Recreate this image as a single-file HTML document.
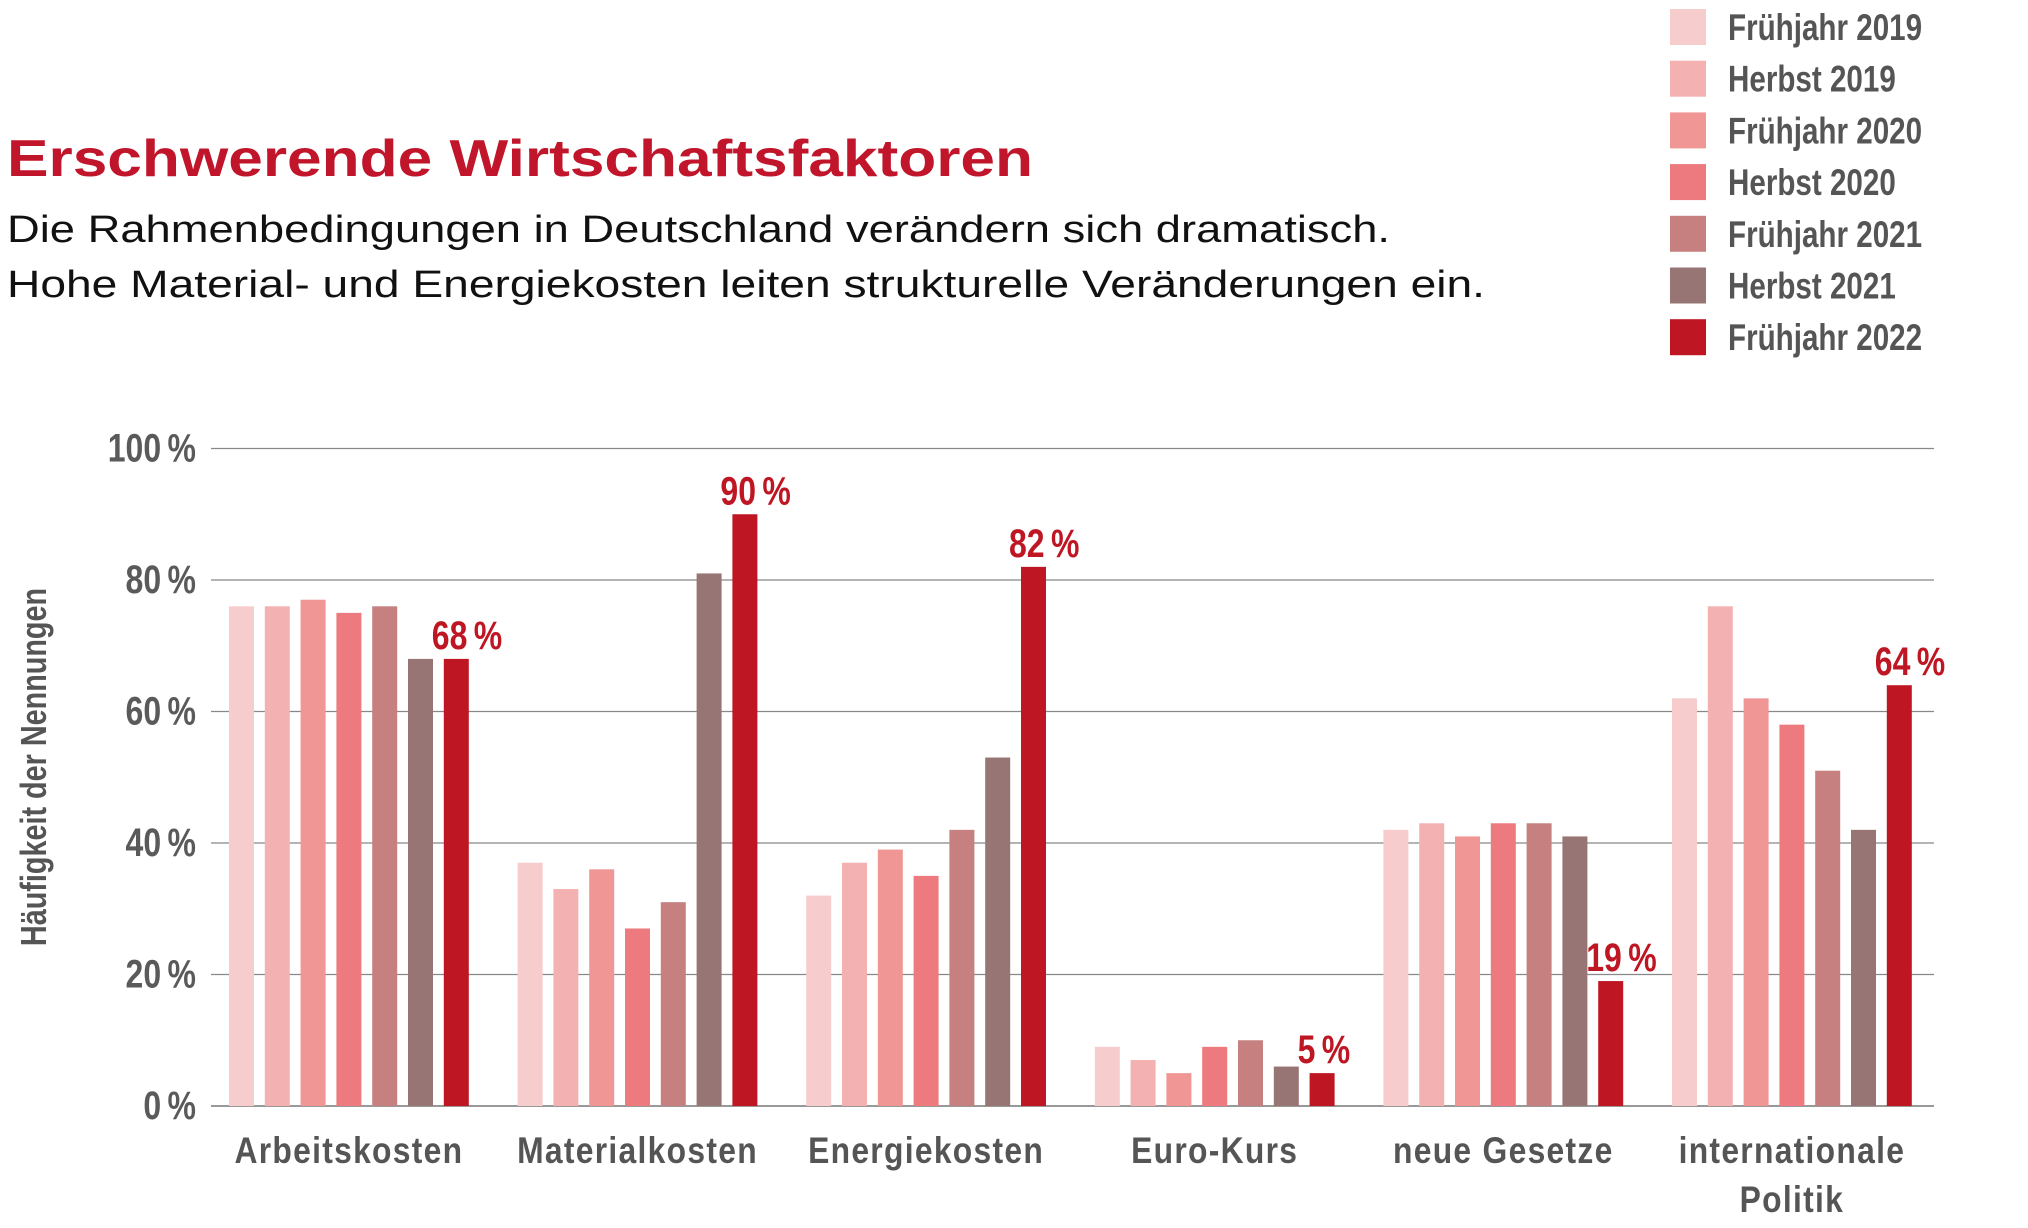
<!DOCTYPE html>
<html><head><meta charset="utf-8"><style>
html,body{margin:0;padding:0;background:#fff;}
svg{display:block;}
.nar{font-family:"Liberation Sans Narrow","Liberation Sans",sans-serif;font-weight:bold;}
</style></head><body>
<svg id="chart" width="2028" height="1228" viewBox="0 0 2028 1228" xmlns="http://www.w3.org/2000/svg">
<text x="7" y="176" font-family="Liberation Sans, sans-serif" font-weight="bold" font-size="52" fill="#c0152a" textLength="1026" lengthAdjust="spacingAndGlyphs">Erschwerende Wirtschaftsfaktoren</text>
<text x="7" y="242" font-family="Liberation Sans, sans-serif" font-size="38" fill="#111" textLength="1383" lengthAdjust="spacingAndGlyphs">Die Rahmenbedingungen in Deutschland verändern sich dramatisch.</text>
<text x="7" y="297" font-family="Liberation Sans, sans-serif" font-size="38" fill="#111" textLength="1478" lengthAdjust="spacingAndGlyphs">Hohe Material- und Energiekosten leiten strukturelle Veränderungen ein.</text>
<g id="grid"></g><g id="bars"></g><g id="legend"></g>
<text class="nar" font-size="36" fill="#555" text-anchor="middle" transform="translate(46,767) rotate(-90) scale(0.8,1)">Häufigkeit der Nennungen</text>
</svg>
<script>
const categories = [["Arbeitskosten"],["Materialkosten"],["Energiekosten"],["Euro-Kurs"],["neue Gesetze"],["internationale","Politik"]];
const seriesNames = ["Frühjahr 2019","Herbst 2019","Frühjahr 2020","Herbst 2020","Frühjahr 2021","Herbst 2021","Frühjahr 2022"];
const s2019F = [76,37,32,9,42,62];
const s2019H = [76,33,37,7,43,76];
const s2020F = [77,36,39,5,41,62];
const s2020H = [75,27,35,9,43,58];
const s2021F = [76,31,42,10,43,51];
const s2021H = [68,81,53,6,41,42];
const s2022F = [68,90,82,5,19,64];
const yTicks = [0,20,40,60,80,100];
const series = [s2019F,s2019H,s2020F,s2020H,s2021F,s2021H,s2022F];
const colors = ["#f7cccc","#f3b2b1","#f09796","#ec7a7f","#c68080","#977574","#be1622"];
const NS="http://www.w3.org/2000/svg";
const y0=1106, y100=448.5, xL=211, xR=1934;
function yScale(v){return y0-(y0-y100)*v/100;}
function xBar(g,s){return 229+g*288.6+s*35.8;}
const bw=25;
function mk(tag,attrs,parent,text){const e=document.createElementNS(NS,tag);for(const k in attrs)e.setAttribute(k,attrs[k]);if(text!==undefined)e.textContent=text;parent.appendChild(e);return e;}
function ntext(x,y,attrs,parent,text,sx){attrs.x=0;attrs.y=0;attrs.transform='translate('+x+','+y+') scale('+(sx||0.8)+',1)';return mk('text',attrs,parent,text);}
const grid=document.getElementById('grid');
yTicks.forEach(t=>{
  const l=mk('line',{x1:xL,x2:xR,y1:yScale(t),y2:yScale(t),stroke:t===0?'#999':'#888','stroke-width':t===0?2:1.3},grid);
  
  
  const tx=ntext(196,yScale(t)+13,{'text-anchor':'end','font-size':40,fill:'#5a5a5a',class:'nar'},grid,t+'\u2009%');
  
  
});
const bars=document.getElementById('bars');
categories.forEach((c,g)=>{
  series.forEach((arr,s)=>{
    const v=arr[g];
    const r=mk('rect',{x:xBar(g,s),y:yScale(v),width:bw,height:y0-yScale(v),fill:colors[s]},bars);
    
    
  });
  const v=s2022F[g];
  const lab=ntext(xBar(g,6)-12,yScale(v)-10,{'font-size':40,fill:'#be1622',class:'nar'},bars,v+'\u2009%');
  
  
  const cx=(xBar(g,0)+xBar(g,6)+bw)/2;
  c.forEach((line,i)=>{
    const t=ntext(cx,1163+i*49,{'text-anchor':'middle','font-size':37,fill:'#555',class:'nar','letter-spacing':'1.5'},bars,line,0.86);
    
    
  });
});
const leg=document.getElementById('legend');
seriesNames.forEach((n,i)=>{
  const cy=27+i*51.7;
  const r=mk('rect',{x:1670,y:cy-18,width:36,height:36,fill:colors[i]},leg);
  
  
  const t=ntext(1728,cy+13,{'font-size':37,fill:'#555',class:'nar'},leg,n);
  
  
});
</script>
</body></html>
